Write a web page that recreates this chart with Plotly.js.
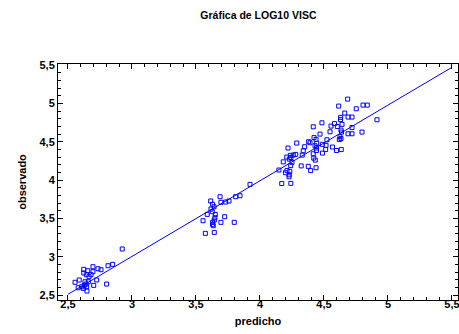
<!DOCTYPE html>
<html>
<head>
<meta charset="utf-8">
<script src="https://cdn.plot.ly/plotly-3.0.1.min.js"></script>
<style>html,body{margin:0;padding:0;background:#fff;}#chart{width:459px;height:334px;}</style>
</head>
<body>
<div id="chart"></div>
<script>
const predicho = [
  2.924,2.849,2.813,2.695,2.734,2.758,2.623,2.654,2.695,2.623,2.643,2.680,2.664,2.724,2.588,2.555,2.633,2.659,2.641,2.627,2.701,2.802,2.580,2.607,2.646,2.620,2.648,
  3.922,3.844,3.810,3.688,3.758,3.732,3.695,3.615,3.630,3.641,3.617,3.627,3.588,3.651,3.648,3.724,3.643,3.555,3.695,3.799,3.630,3.630,3.635,3.573,3.643,
  4.685,4.615,4.805,4.838,4.752,4.662,4.630,4.629,4.688,4.719,4.914,4.484,4.582,4.555,4.604,4.416,4.641,4.719,4.547,4.633,4.637,4.797,4.688,4.719,4.469,
  4.625,4.633,4.620,4.422,4.438,4.523,4.287,4.380,4.391,4.487,4.516,4.349,4.219,4.430,4.441,4.566,4.598,4.635,4.513,4.441,4.338,4.488,4.416,4.279,4.260,
  4.237,4.209,4.242,4.229,4.182,4.250,4.420,4.432,4.322,4.377,4.396,4.438,4.240,4.148,4.211,4.233,4.199,4.228,4.227,4.170,4.241,4.330,4.443
];
const observado = [
  3.100,2.900,2.882,2.869,2.843,2.830,2.835,2.817,2.804,2.787,2.765,2.765,2.739,2.696,2.696,2.666,2.673,2.673,2.643,2.626,2.626,2.643,2.595,2.608,2.608,2.587,2.552,
  3.943,3.795,3.782,3.782,3.726,3.713,3.709,3.726,3.683,3.651,3.621,3.586,3.552,3.552,3.508,3.521,3.478,3.469,3.448,3.448,3.448,3.422,3.404,3.304,3.317,
  5.055,4.964,4.977,4.977,4.929,4.873,4.817,4.788,4.821,4.821,4.786,4.746,4.736,4.703,4.697,4.694,4.726,4.684,4.629,4.651,4.625,4.625,4.603,4.603,4.599,
  4.564,4.540,4.527,4.553,4.530,4.525,4.482,4.499,4.486,4.465,4.452,4.434,4.417,4.447,4.417,4.430,4.384,4.397,4.397,4.384,4.381,4.351,4.342,4.334,4.325,
  4.321,4.299,4.293,4.273,4.237,4.231,4.286,4.260,4.184,4.178,4.123,4.160,4.188,4.130,4.123,4.113,4.095,4.067,4.042,3.954,3.956,4.325,4.478
];
const fitX = [2.5, 5.5];
const fitY = [2.51, 5.47];

const font = 'Liberation Sans, Arial, sans-serif';
const axisCommon = {
  showline: true, linecolor: '#000', linewidth: 1, mirror: 'allticks',
  ticks: 'inside', ticklen: 5, tickwidth: 1, tickcolor: '#000',
  dtick: 0.5, tick0: 2.5,
  minor: {dtick: 0.1, ticks: 'inside', ticklen: 3, tickcolor: '#000', tickwidth: 1, showgrid: false},
  showgrid: false, zeroline: false,
  ticklabeloverflow: 'allow',
  tickfont: {family: font, size: 11, color: '#000', weight: 700}
};
const layout = {
  width: 459, height: 334,
  margin: {l: 58, r: 1, t: 64, b: 34},
  paper_bgcolor: '#fff', plot_bgcolor: '#fff',
  separators: ', ',
  showlegend: false,
  title: {text: '<b>Gráfica de LOG10 VISC</b>', font: {family: font, size: 10.5, color: '#000'}, x: 0.563, xanchor: 'center', y: 0.955, yanchor: 'middle'},
  xaxis: Object.assign({}, axisCommon, {range: [2.422, 5.547], ticklabelstandoff: -6, title: {text: '<b>predicho</b>', font: {family: font, size: 11, color: '#000'}, standoff: 8}}),
  yaxis: Object.assign({}, axisCommon, {range: [2.435, 5.513], title: {text: '<b>observado</b>', font: {family: font, size: 11, color: '#000'}, standoff: 10}})
};
const traces = [
  {x: fitX, y: fitY, type: 'scatter', mode: 'lines', line: {color: '#0000ff', width: 1}, hoverinfo: 'skip'},
  {x: predicho, y: observado, type: 'scatter', mode: 'markers', cliponaxis: false,
   marker: {symbol: 'square-open', size: 4, color: '#0000ff', line: {width: 1, color: '#0000ff'}}}
];
Plotly.newPlot('chart', traces, layout, {staticPlot: true, displayModeBar: false});
</script>
</body>
</html>
